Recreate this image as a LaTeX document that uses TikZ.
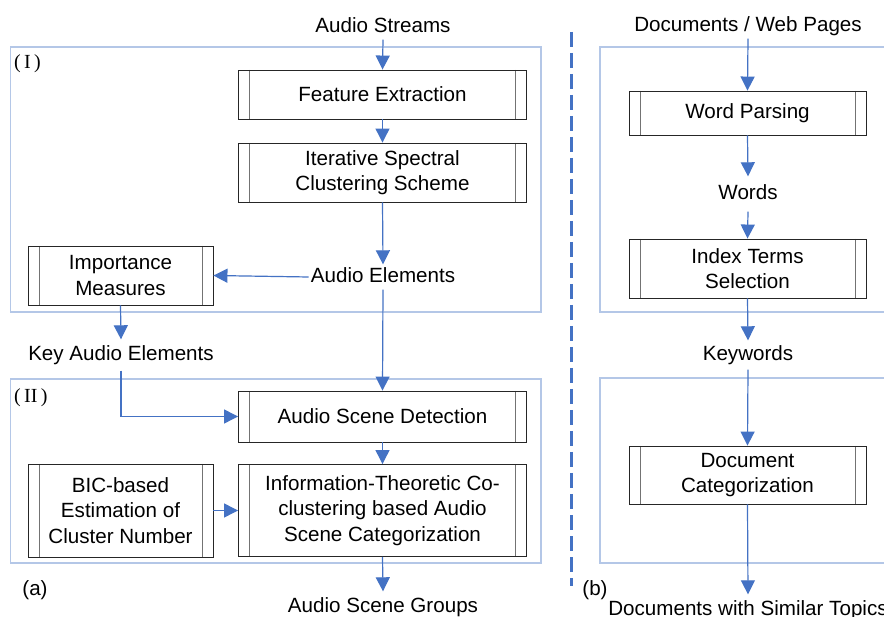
\documentclass[tikz,border=0pt]{standalone}
\usepackage{fontspec}
\setmainfont{Liberation Sans}
\newfontfamily\romanlbl{Liberation Serif}
\usetikzlibrary{arrows.meta,positioning}
\definecolor{flowblue}{HTML}{4472C4}
\definecolor{framebl}{HTML}{B4C7E7}
\newcommand{\lblfont}{\fontsize{20.6}{25.5}\selectfont}
\tikzset{
  proc/.style={draw=black!85, line width=0.9pt, fill=white, align=center,
    font=\lblfont, inner sep=0pt,
    path picture={\draw[black!55, line width=0.9pt]
      ([xshift=11pt]path picture bounding box.north west) -- ([xshift=11pt]path picture bounding box.south west)
      ([xshift=-11pt]path picture bounding box.north east) -- ([xshift=-11pt]path picture bounding box.south east);}},
  txt/.style={font=\lblfont, inner xsep=2pt, inner ysep=3pt, text height=15pt, text depth=4pt, yshift=-2pt},
  flow/.style={draw=flowblue, line width=1.2pt, -{Triangle[width=14pt,length=14pt]}},
  frame/.style={draw=framebl, line width=1.1pt},
  numlbl/.style={font=\romanlbl\fontsize{20}{24}\selectfont, anchor=west, inner sep=0pt},
}
\begin{document}
\begin{tikzpicture}[x=1pt,y=1pt]
\useasboundingbox (0,0) rectangle (884,-617);
\clip (0,0) rectangle (884,-617);
\fill[white] (0,0) rectangle (884,-617);

% stage frames
\draw[frame] (10.5,-47) rectangle (541,-312);
\draw[frame] (10.5,-379) rectangle (541,-563);
\draw[frame] (600,-47) rectangle (900,-312);
\draw[frame] (600,-378) rectangle (900,-563);
\node[numlbl] (lI) at (14,-64) {(\,I\,)};
\node[numlbl] (lII) at (14,-398) {(\,II\,)};

% separator
\draw[flowblue, line width=3pt, dash pattern=on 15pt off 6pt] (571,-32) -- (571,-586);

% audio branch
\node[txt] (as) at (383,-25) {Audio Streams};
\node[proc, minimum width=288pt, minimum height=49pt] (fe) at (382.5,-94.5) {Feature Extraction};
\node[proc, minimum width=288pt, minimum height=59pt] (isc) at (382.5,-172.5) {Iterative Spectral\\Clustering Scheme};
\node[txt] (ae) at (383,-275) {Audio Elements};
\node[proc, minimum width=185pt, minimum height=59pt] (im) at (120.5,-275.5) {Importance\\Measures};
\node[txt, inner ysep=6pt] (kae) at (121,-353) {Key Audio Elements};
\node[proc, minimum width=288pt, minimum height=51pt] (asd) at (382.5,-416.5) {Audio Scene Detection};
\node[proc, minimum width=185pt, minimum height=93pt] (bic) at (120.5,-510.5) {BIC-based\\Estimation of\\Cluster Number};
\node[proc, minimum width=288pt, minimum height=92pt] (itc) at (382.5,-510.5) {Information-Theoretic Co-\\clustering based Audio\\Scene Categorization};
\node[txt, inner ysep=6pt] (asg) at (383,-605) {Audio Scene Groups};
\node[txt, anchor=center] (la) at (35,-588) {(a)};

\draw[flow] (as.south) -- (fe.north);
\draw[flow] (fe.south) -- (isc.north);
\draw[flow] (isc.south) -- (ae.north);
\draw[flow] (ae.west) -- (im.east);
\draw[flow] (im.south) -- (kae.north);
\draw[flow] (kae.south) |- (asd.west);
\draw[flow] (ae.south) -- (asd.north);
\draw[flow] (asd.south) -- (itc.north);
\draw[flow] (bic.east) -- (itc.west);
\draw[flow] (itc.south) -- (asg.north);

% text branch
\node[txt] (dwp) at (748,-24) {Documents / Web Pages};
\node[proc, minimum width=237pt, minimum height=44pt] (wp) at (747.5,-113) {Word Parsing};
\node[txt, inner ysep=8pt] (wd) at (748,-192) {Words};
\node[proc, minimum width=237pt, minimum height=59pt] (its) at (747.5,-268.5) {Index Terms\\Selection};
\node[txt, inner ysep=5pt] (kw) at (748,-353) {Keywords};
\node[proc, minimum width=237pt, minimum height=58pt] (dc) at (747.5,-475) {Document\\Categorization};
\node[txt, inner ysep=6pt] (dst) at (748,-608) {Documents with Similar Topics};
\node[txt, anchor=center] (lb) at (595,-588) {(b)};

\draw[flow] (dwp.south) -- (wp.north);
\draw[flow] (wp.south) -- (wd.north);
\draw[flow] (wd.south) -- (its.north);
\draw[flow] (its.south) -- (kw.north);
\draw[flow] (kw.south) -- (dc.north);
\draw[flow] (dc.south) -- (dst.north);
\end{tikzpicture}
\end{document}
